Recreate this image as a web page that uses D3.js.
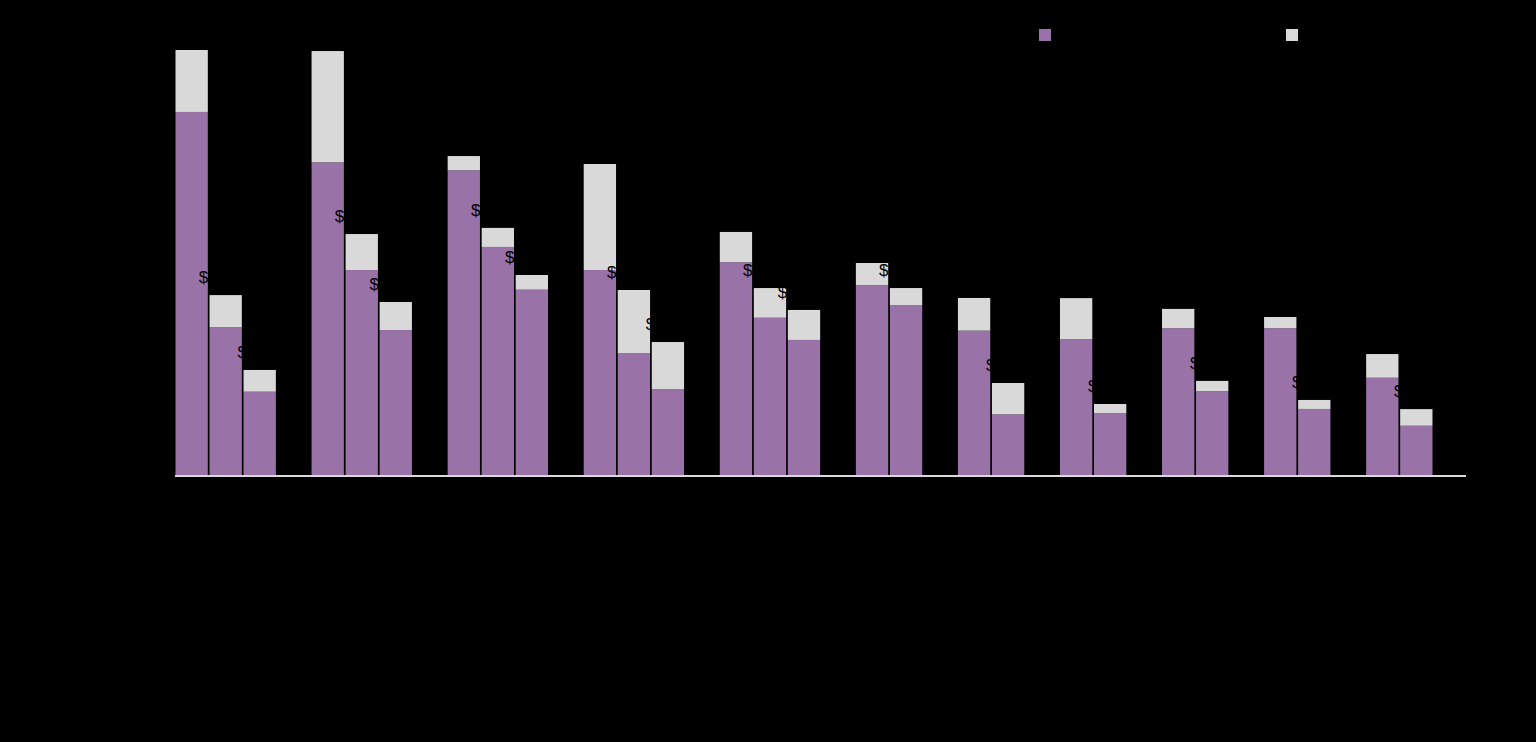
<!DOCTYPE html>
<html>
<head>
<meta charset="utf-8">
<script src="https://cdn.jsdelivr.net/npm/d3@7"></script>
<style>
  html, body { margin: 0; padding: 0; background: #000; }
  svg { display: block; }
  text { font-family: "Liberation Sans", Arial, sans-serif; }
</style>
</head>
<body>
<svg id="chart" width="1536" height="742"></svg>
<script>
// ---- data ----
const groupNames = ["Group 1","Group 2","Group 3","Group 4","Group 5","Group 6",
                    "Group 7","Group 8","Group 9","Group 10","Group 11"];
const groupSizes = [3,3,3,3,3,2,2,2,2,2,2];
const barLabels = [
  "Type A","Type B","Type C",
  "Type A","Type B","Type C",
  "Type A","Type B","Type C",
  "Type A","Type B","Type C",
  "Type A","Type B","Type C",
  "Type A","Type B",
  "Type A","Type B",
  "Type A","Type B",
  "Type A","Type B",
  "Type A","Type B",
  "Type A","Type B"
];
const seriesNames = ["Base amount", "Additional amount"];
const baseValues = [24270, 9930, 5620,
                    20910, 13730, 9730,
                    20380, 15270, 12420,
                    13730, 8200, 5800,
                    14250, 10550, 9070,
                    12730, 11400,
                    9690, 4110,
                    9130, 4180,
                    9850, 5650,
                    9850, 4470,
                    6550, 3350];
const addValues  = [4130, 2130, 1450,
                    7420, 2400, 1870,
                    950, 1270, 980,
                    7070, 4200, 3130,
                    2020, 1980, 2000,
                    1470, 1130,
                    2180, 2090,
                    2730, 620,
                    1290, 690,
                    750, 600,
                    1580, 1110];
const titleText = "Average amount by category";

// ---- build slots (bars plus one empty separator slot after each group) ----
const bars = [];
const slots = [];
let k = 0;
groupSizes.forEach((n, gi) => {
  for (let j = 0; j < n; j++) {
    const id = "b" + k;
    bars.push({ id, group: groupNames[gi], label: barLabels[k],
                base: baseValues[k], add: addValues[k] });
    slots.push(id);
    k++;
  }
  slots.push("gap" + gi);
});

const svg = d3.select("#chart");
const colors = ["#9972a8", "#d9d9d9"];

const x = d3.scaleBand().domain(slots).range([175.5, 1466.5]).paddingInner(0.05).paddingOuter(0);
const y = d3.scaleLinear().domain([0, 30000]).range([476, 26]);

// stacked bars
const stack = d3.stack().keys(["base", "add"]);
const series = stack(bars);

svg.append("g").selectAll("g")
  .data(series)
  .join("g")
  .attr("fill", (d, i) => colors[i])
  .selectAll("rect")
  .data(d => d)
  .join("rect")
  .attr("x", d => x(d.data.id))
  .attr("width", x.bandwidth())
  .attr("y", d => y(d[1]))
  .attr("height", d => y(d[0]) - y(d[1]));

// value labels (black)
const fmt = v => "$" + d3.format(".1f")(v / 1000) + "K";
svg.append("g").selectAll("text")
  .data(bars)
  .join("text")
  .attr("x", d => x(d.id) + x.bandwidth() / 2)
  .attr("y", d => y(d.base + d.add) - 12)
  .attr("text-anchor", "middle")
  .attr("font-size", 17)
  .attr("fill", "#000")
  .text(d => fmt(d.base + d.add));

// x axis baseline
svg.append("line")
  .attr("x1", 175).attr("x2", 1466)
  .attr("y1", 476).attr("y2", 476)
  .attr("stroke", "#d9d9d9").attr("stroke-width", 2);

// category labels (black)
const xAxis = d3.axisBottom(x).tickSize(0)
  .tickFormat(id => { const b = bars.find(v => v.id === id); return b ? b.label : ""; });
const ax = svg.append("g").attr("transform", "translate(0,477)").call(xAxis);
ax.select(".domain").remove();
ax.selectAll("text").attr("fill", "#000").attr("font-size", 13)
  .attr("transform", "rotate(-45)").attr("text-anchor", "end").attr("dx", "-0.4em").attr("dy", "0.6em");

// group labels (black)
const groupCenters = groupNames.map((g, gi) => {
  const gb = bars.filter(b => b.group === g);
  const x0 = x(gb[0].id), x1 = x(gb[gb.length - 1].id) + x.bandwidth();
  return { g, cx: (x0 + x1) / 2 };
});
svg.append("g").selectAll("text").data(groupCenters).join("text")
  .attr("x", d => d.cx).attr("y", 600)
  .attr("text-anchor", "middle").attr("font-size", 14).attr("fill", "#000")
  .text(d => d.g);

// title (black)
svg.append("text").attr("x", 175).attr("y", 22).attr("font-size", 18)
  .attr("fill", "#000").text(titleText);

// legend
const legendX = [1039, 1286];
const lg = svg.append("g").selectAll("g").data(seriesNames).join("g")
  .attr("transform", (d, i) => `translate(${legendX[i]},29)`);
lg.append("rect").attr("width", 12).attr("height", 12).attr("fill", (d, i) => colors[i]);
lg.append("text").attr("x", 18).attr("y", 11).attr("font-size", 14).attr("fill", "#000").text(d => d);
</script>
</body>
</html>
